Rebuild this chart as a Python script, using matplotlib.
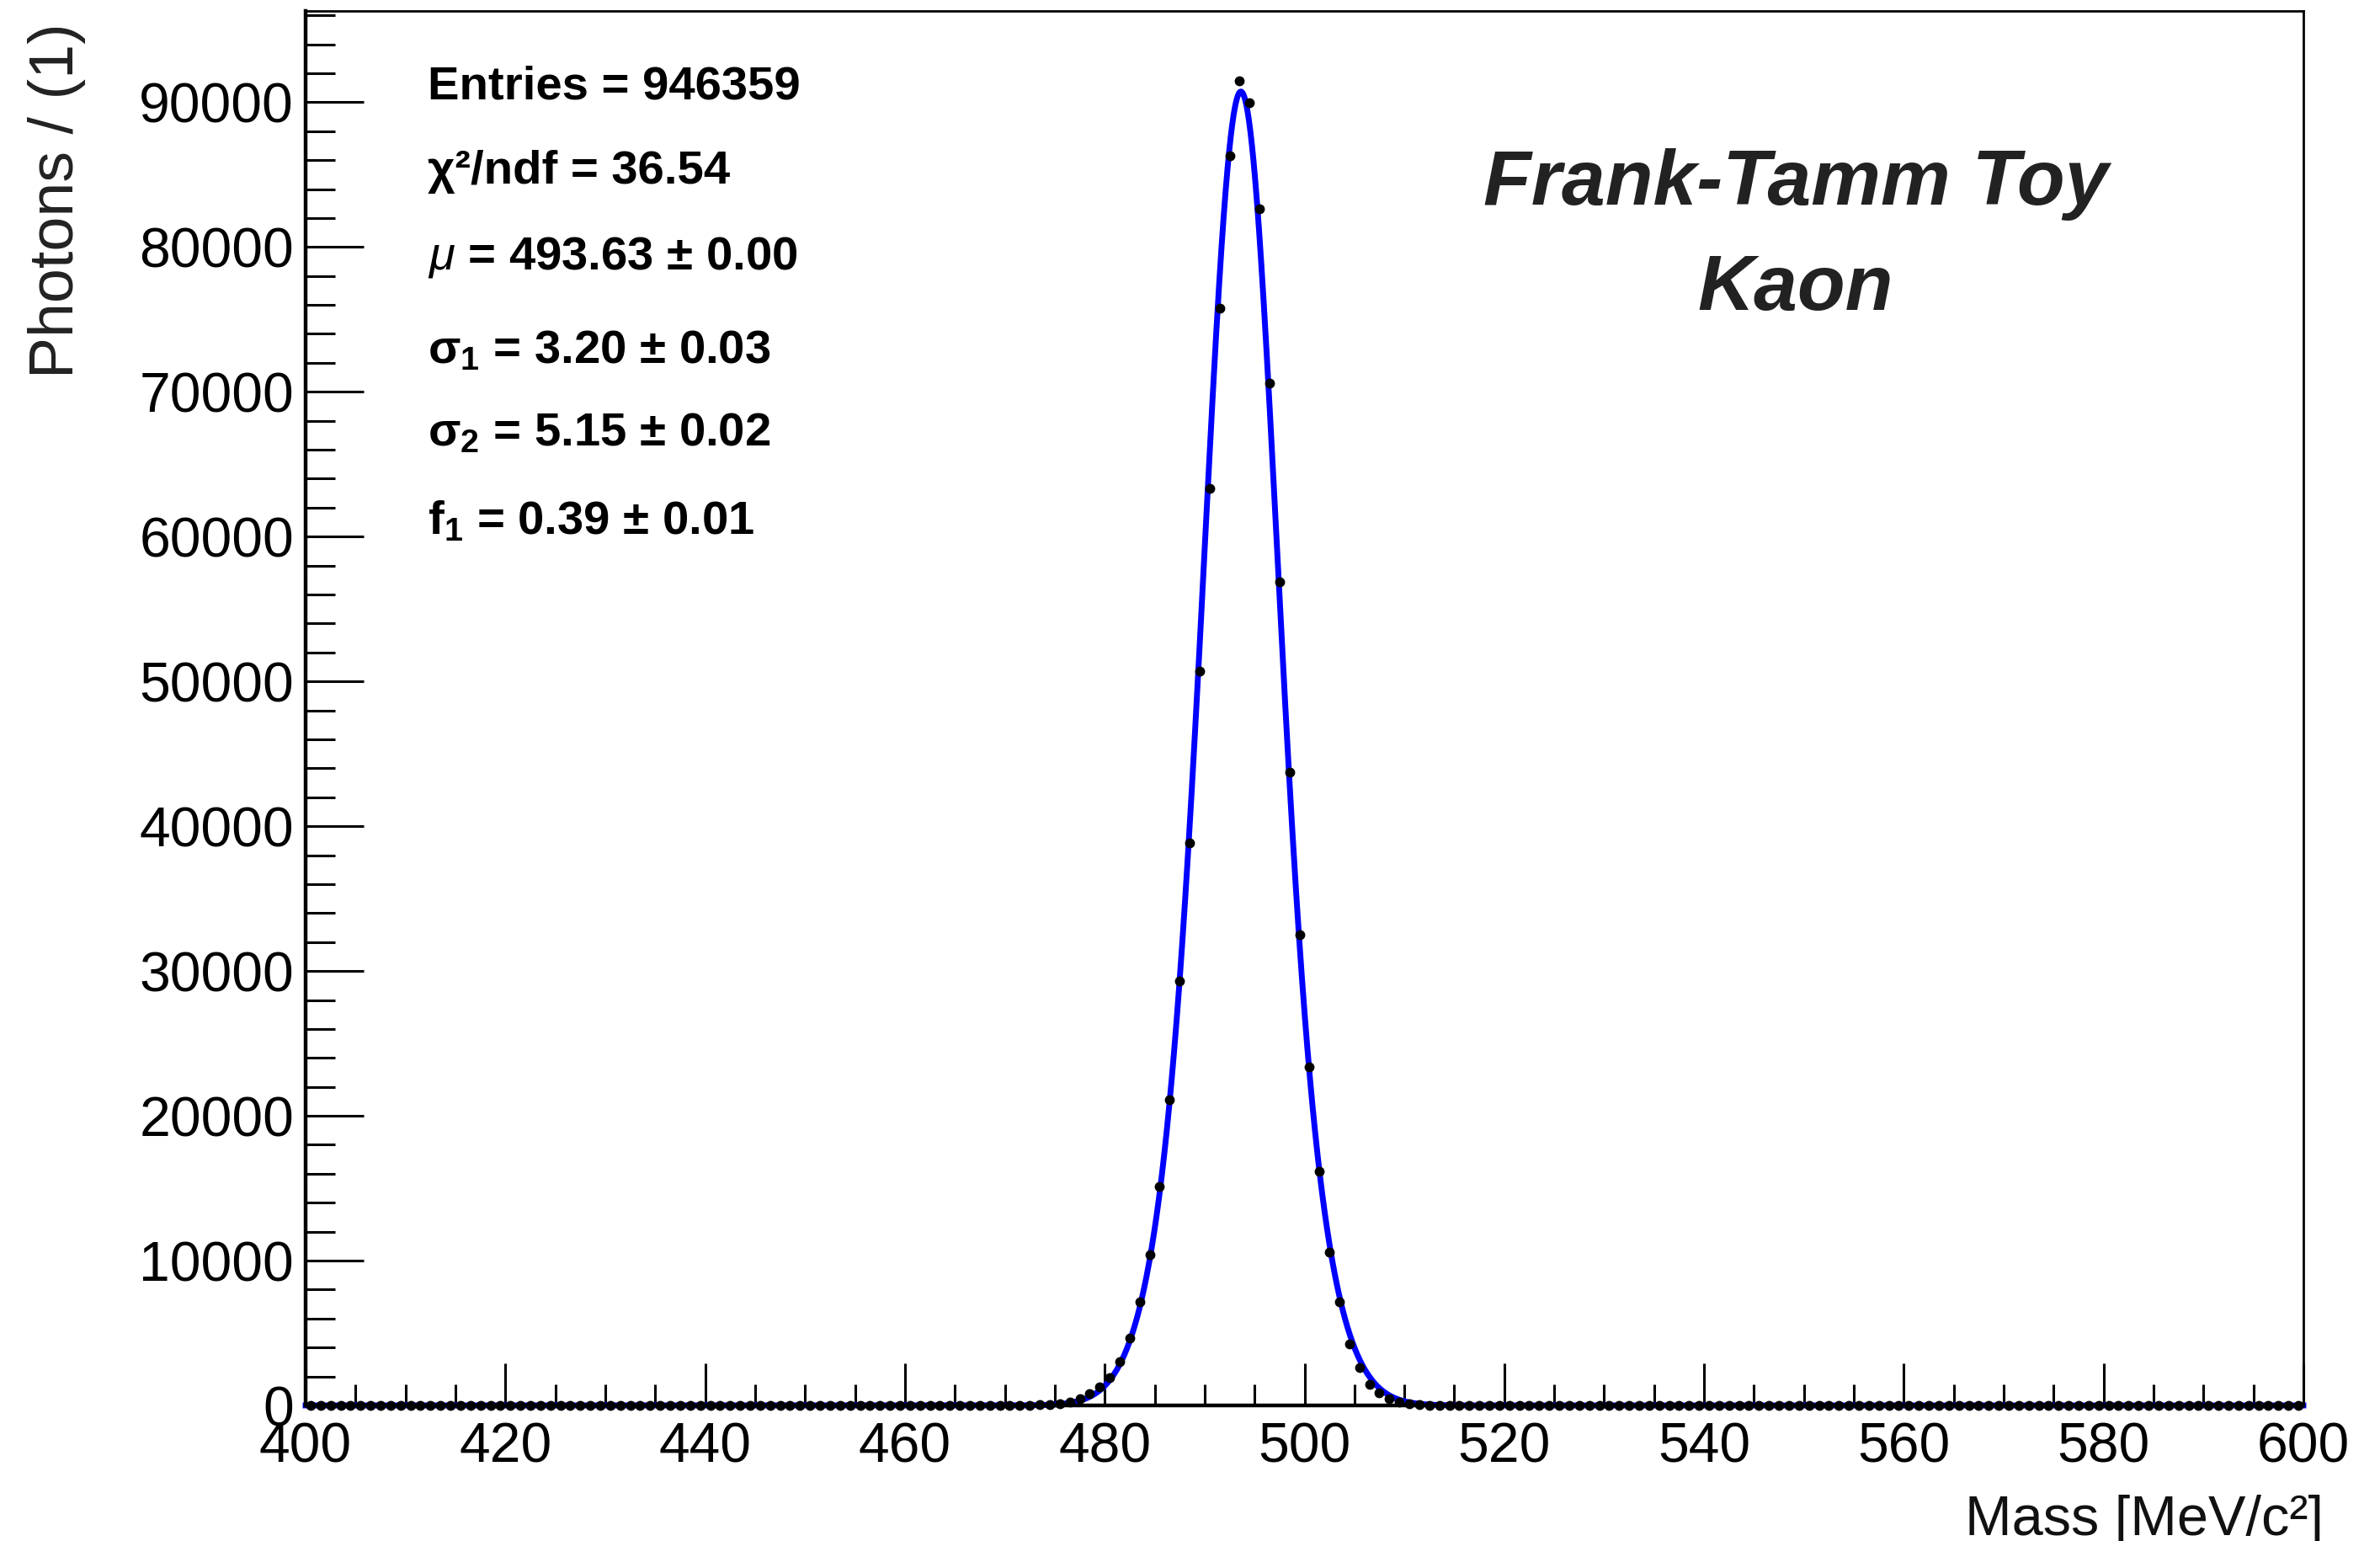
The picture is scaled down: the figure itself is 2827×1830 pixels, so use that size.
import matplotlib
matplotlib.use('Agg')
import matplotlib.pyplot as plt
import numpy as np
from matplotlib.ticker import MultipleLocator

plt.rcParams['font.family'] = ['Liberation Sans', 'DejaVu Sans']
plt.rcParams['mathtext.fontset'] = 'custom'
plt.rcParams['mathtext.rm'] = 'Liberation Sans:bold'
plt.rcParams['mathtext.it'] = 'Liberation Sans:italic'
plt.rcParams['mathtext.bf'] = 'Liberation Sans:bold'

# histogram: 1 MeV bins from 400 to 600
bin_lo, bin_hi, bin_width = 400, 600, 1
bin_centers = np.arange(bin_lo + 0.5, bin_hi, bin_width)

# counts, bins 472.5 .. 512.5 (all others are 0)
peak_first_bin = 472.5
peak_counts = [10, 30, 60, 120, 250, 450, 800, 1300, 1900, 3050, 4660,
               7160, 10390, 15140, 21120, 29300, 38850, 50700, 63300, 75770,
               86290, 91500, 89980, 82640, 70600, 56850, 43750, 32500, 23350,
               16150, 10580, 7130, 4230, 2600, 1440, 880, 450, 220, 100, 50, 20]

counts = np.zeros(len(bin_centers))
i0 = int(peak_first_bin - bin_centers[0])
counts[i0:i0 + len(peak_counts)] = peak_counts

# fit results shown in the stats box
entries = 946359
chi2_ndf = 36.54
fit_mu, fit_mu_err = 493.63, 0.00
fit_s1, fit_s1_err = 3.20, 0.03
fit_s2, fit_s2_err = 5.15, 0.02
fit_f1, fit_f1_err = 0.39, 0.01


def gauss(x, mu, s):
    return np.exp(-0.5 * ((x - mu) / s) ** 2) / (s * np.sqrt(2 * np.pi))


fig = plt.figure(figsize=(28.27, 18.30), dpi=100)
ax = fig.add_axes([363 / 2827, 1 - 1669 / 1830, (2736 - 363) / 2827, (1669 - 13) / 1830])

# fitted double gaussian
xf = np.linspace(bin_lo, bin_hi, 4001)
yf = entries * bin_width * (fit_f1 * gauss(xf, fit_mu, fit_s1) + (1 - fit_f1) * gauss(xf, fit_mu, fit_s2))
ax.plot(xf, yf, color='#0000ff', lw=5.0, zorder=2, clip_on=False)

# data points
ax.plot(bin_centers, counts, 'o', color='black', ms=7.5, zorder=3, clip_on=False)

ax.set_xlim(bin_lo, bin_hi)
ax.set_ylim(0, 96300)

ax.xaxis.set_major_locator(MultipleLocator(20))
ax.xaxis.set_minor_locator(MultipleLocator(5))
ax.yaxis.set_major_locator(MultipleLocator(10000))
ax.yaxis.set_minor_locator(MultipleLocator(2000))

ax.tick_params(axis='both', which='both', direction='in', top=False, right=False,
               width=2.2, labelsize=47.5)
ax.tick_params(axis='y', which='major', length=50, pad=10)
ax.tick_params(axis='y', which='minor', length=25)
ax.tick_params(axis='x', which='major', length=36, pad=14)
ax.tick_params(axis='x', which='minor', length=18)

for side in ['left', 'bottom']:
    ax.spines[side].set_linewidth(3.2)
for side in ['top', 'right']:
    ax.spines[side].set_linewidth(2.0)

# axis titles (ROOT style, at the axis ends)
fig.text(68 / 2827, 1 - 27 / 1830, 'Photons / (1)', rotation=90, ha='center', va='top',
         fontsize=53, color='#222222')
fig.text(2760 / 2827, 1 - 1823 / 1830, 'Mass [MeV/c²]', ha='right', va='baseline',
         fontsize=48, color='#111111')

# stats box text
stats = [
    'Entries = %d' % entries,
    'χ²/ndf = %.2f' % chi2_ndf,
    r'$\mu$ = %.2f ± %.2f' % (fit_mu, fit_mu_err),
    r'σ$_{1}$ = %.2f ± %.2f' % (fit_s1, fit_s1_err),
    r'σ$_{2}$ = %.2f ± %.2f' % (fit_s2, fit_s2_err),
    r'f$_{1}$ = %.2f ± %.2f' % (fit_f1, fit_f1_err),
]
baselines = [118, 218, 320, 431, 529, 634]
for s, yb in zip(stats, baselines):
    fig.text(508 / 2827, 1 - yb / 1830, s, ha='left', va='baseline',
             fontsize=40.5, fontweight='bold', color='black')

# label
fig.text(2133 / 2827, 1 - 243 / 1830, 'Frank-Tamm Toy', ha='center', va='baseline',
         fontsize=67, fontweight='bold', fontstyle='italic', color='#222222')
fig.text(2133 / 2827, 1 - 368 / 1830, 'Kaon', ha='center', va='baseline',
         fontsize=67, fontweight='bold', fontstyle='italic', color='#222222')

fig.savefig('out.png', dpi=100)
